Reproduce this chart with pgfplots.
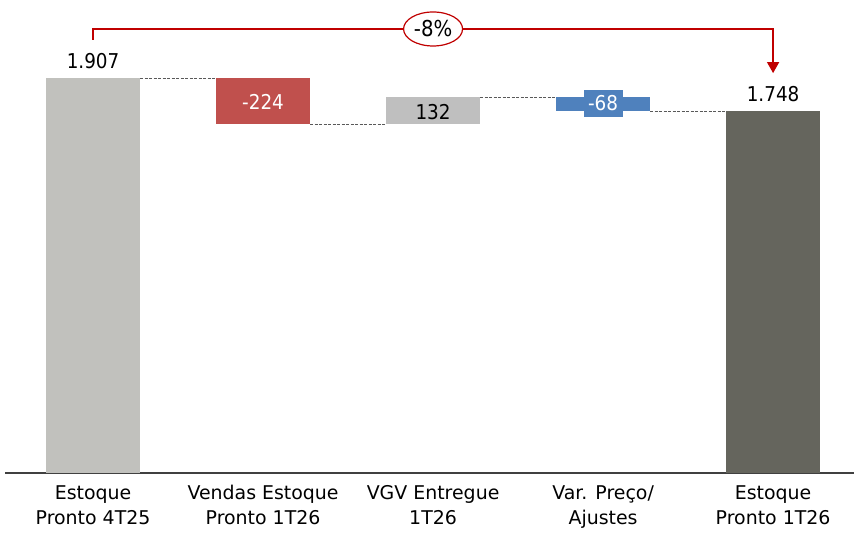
\documentclass[border=0pt]{standalone}
\usepackage{pgfplots}
\pgfplotsset{compat=1.18}
\usepackage{fontspec}
\setmainfont{DejaVu Sans Condensed}
\newfontfamily\catfont{DejaVu Sans}
\usetikzlibrary{arrows.meta,shapes.geometric}
\definecolor{cA}{HTML}{C1C1BD}
\definecolor{cB}{HTML}{C0504D}
\definecolor{cC}{HTML}{BFBFBF}
\definecolor{cD}{HTML}{4F81BD}
\definecolor{cE}{HTML}{65655D}
\definecolor{cR}{HTML}{C00000}
\begin{document}
\begin{tikzpicture}
\useasboundingbox (0,0) rectangle (854bp,534bp);
\begin{axis}[
  at={(5bp,61bp)}, anchor=south west,
  scale only axis, width=849bp, height=473bp,
  xmin=-0.518, xmax=4.476, ymin=0, ymax=2284,
  axis x line=bottom, axis y line=none,
  axis line style={-, black!75, line width=1.2bp},
  xtick={0,1,2,3,4},
  xticklabels={{Estoque\\Pronto 4T25},{Vendas Estoque\\Pronto 1T26},{VGV Entregue\\1T26},{Var. Preço/\\Ajustes},{Estoque\\Pronto 1T26}},
  major tick length=0pt,
  xticklabel style={align=center, font=\catfont\fontsize{19}{25}\selectfont, anchor=north, yshift=-9bp},
  ytick=\empty,
  ybar stacked, bar width=94bp,
  clip=false,
]
\addplot[fill=none, draw=none] coordinates {(0,0) (1,1683) (2,1683) (3,1747) (4,0)};
\addplot[fill=cA, draw=none] coordinates {(0,1907) (1,0) (2,0) (3,0) (4,0)};
\addplot[fill=cB, draw=none] coordinates {(0,0) (1,224) (2,0) (3,0) (4,0)};
\addplot[fill=cC, draw=none] coordinates {(0,0) (1,0) (2,132) (3,0) (4,0)};
\addplot[fill=cD, draw=none] coordinates {(0,0) (1,0) (2,0) (3,68) (4,0)};
\addplot[fill=cE, draw=none] coordinates {(0,0) (1,0) (2,0) (3,0) (4,1748)};

\coordinate (k1a) at (axis cs:0.2765,1907); \coordinate (k1b) at (axis cs:0.7235,1907);
\coordinate (k2a) at (axis cs:1.2765,1683); \coordinate (k2b) at (axis cs:1.7235,1683);
\coordinate (k3a) at (axis cs:2.2765,1815); \coordinate (k3b) at (axis cs:2.7235,1815);
\coordinate (k4a) at (axis cs:3.2765,1747); \coordinate (k4b) at (axis cs:3.7235,1747);
\coordinate (bxa) at (axis cs:2.888,1719); \coordinate (bxb) at (axis cs:3.118,1849);
\coordinate (v1) at (axis cs:0,1951);
\coordinate (v5) at (axis cs:4,1793);
\coordinate (v2) at (axis cs:1,1753);
\coordinate (v3) at (axis cs:2,1709);
\coordinate (v4) at (axis cs:3,1748);
\coordinate (r1) at (axis cs:0,2091);
\coordinate (r2) at (axis cs:0,2144);
\coordinate (r3) at (axis cs:4,2144);
\coordinate (r4) at (axis cs:4,1931);
\coordinate (rm) at (axis cs:2,2144);
\end{axis}
% connectors
\draw[black!65, line width=1bp, dash pattern=on 3bp off 1.5bp] (k1a) -- (k1b);
\draw[black!65, line width=1bp, dash pattern=on 3bp off 1.5bp] (k2a) -- (k2b);
\draw[black!65, line width=1bp, dash pattern=on 3bp off 1.5bp] (k3a) -- (k3b);
\draw[black!65, line width=1bp, dash pattern=on 3bp off 1.5bp] (k4a) -- (k4b);
% blue label box
\fill[cD] (bxa) rectangle (bxb);
% value labels
\node[anchor=base, font=\fontsize{20.5}{24}\selectfont] at (v1) {1.907};
\node[anchor=base, font=\fontsize{20.5}{24}\selectfont] at (v5) {1.748};
\node[anchor=base, font=\fontsize{20.5}{24}\selectfont, text=white] at (v2) {-224};
\node[anchor=base, font=\fontsize{20.5}{24}\selectfont] at (v3) {132};
\node[anchor=base, font=\fontsize{20.5}{24}\selectfont, text=white] at (v4) {-68};
% bracket
\draw[cR, line width=1.5bp, -{Triangle[width=12bp,length=11bp]}] (r1) -- (r2) -- (r3) -- (r4);
\node[ellipse, draw=cR, line width=1.2bp, fill=white, minimum width=59bp, minimum height=34bp, inner sep=0pt, font=\fontsize{22}{26}\selectfont] at (rm) {-8\%};
\end{tikzpicture}
\end{document}
